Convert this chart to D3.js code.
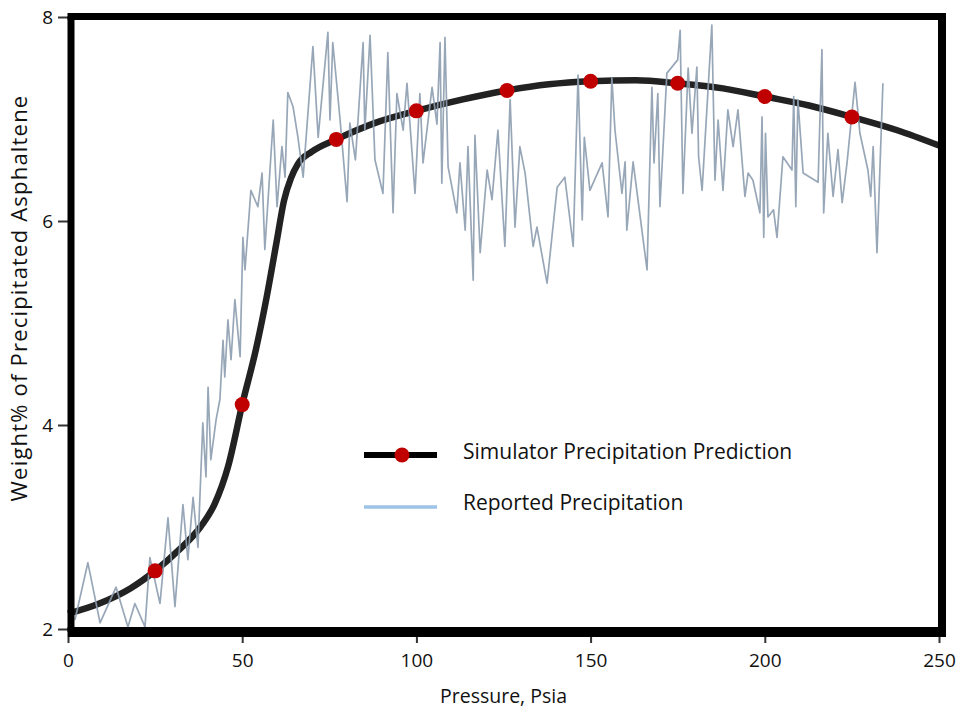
<!DOCTYPE html>
<html>
<head>
<meta charset="utf-8">
<title>Asphaltene precipitation</title>
<style>
  body { margin: 0; background: #fff; }
  svg text { font-family: "Open Sans", "Noto Sans", sans-serif; fill: #111; }
</style>
</head>
<body>
<svg width="960" height="709"></svg>
<script src="https://d3js.org/d3.v7.min.js"></script>
<script>
// simulator prediction curve
var curveX = [0, 9, 18, 25, 32, 38, 42, 46, 50, 54, 57, 60, 62, 64, 66, 70, 77, 88, 100, 113, 126, 138, 150, 163, 175, 188, 200, 213, 225, 238, 250];
var curveY = [2.15, 2.25, 2.4, 2.57, 2.78, 3.0, 3.22, 3.6, 4.2, 4.75, 5.25, 5.82, 6.2, 6.42, 6.56, 6.68, 6.8, 6.96, 7.08, 7.19, 7.28, 7.34, 7.37, 7.38, 7.35, 7.3, 7.22, 7.13, 7.02, 6.89, 6.74];

// red markers on the simulator curve
var dotX = [25, 50, 77, 100, 126, 150, 175, 200, 225];
var dotY = [2.57, 4.2, 6.8, 7.08, 7.28, 7.37, 7.35, 7.22, 7.02];

// reported precipitation
var repX = [2.0, 5.7, 9.2, 13.8, 17.2, 19.2, 22.1, 23.5, 26.4, 28.7, 30.7, 33.0, 34.4, 35.9, 37.3, 38.7, 39.6, 40.2, 41.0, 42.5, 43.6, 44.5, 45.0, 45.9, 46.8, 47.9, 49.4, 50.2, 50.8, 52.5,
  54.5, 55.7, 56.5, 58.9, 60.0, 61.4, 62.3, 63.1, 64.6, 66.0, 67.5, 70.3, 71.8, 74.6, 75.2, 76.0, 78.1, 80.1, 80.9, 82.5, 84.7, 85.2, 86.7, 88.1, 90.4, 91.8, 93.3, 94.4, 96.2, 97.3,
  99.6, 101.0, 101.9, 104.5, 105.9, 106.8, 107.3, 108.2, 109.1, 111.6, 112.5, 114.0, 114.8, 116.3, 116.8, 118.3, 120.3, 121.7, 123.4, 125.4, 126.9, 128.3, 129.7, 131.2, 133.5, 134.6, 137.5, 140.4, 142.6, 145.0,
  146.4, 147.6, 148.2, 149.8, 153.3, 155.0, 156.1, 157.0, 159.0, 159.9, 160.4, 162.2, 166.2, 167.6, 168.2, 169.3, 169.9, 171.9, 175.0, 175.7, 176.5, 178.0, 179.1, 180.5, 181.0, 182.0, 184.8, 185.7, 186.6, 188.0,
  189.4, 190.9, 192.3, 194.3, 195.2, 196.6, 198.6, 199.2, 199.7, 200.2, 200.9, 202.5, 203.5, 205.2, 207.8, 208.3, 208.9, 209.5, 211.0, 215.3, 216.4, 216.9, 218.1, 219.6, 221.0, 222.2, 223.6, 225.9, 227.3, 229.6,
  230.4, 231.1, 232.2, 233.9];
var repY = [2.09, 2.65, 2.06, 2.41, 2.02, 2.25, 2.02, 2.70, 2.25, 3.09, 2.22, 3.22, 2.68, 3.29, 2.80, 4.02, 3.49, 4.37, 3.66, 4.05, 4.25, 4.83, 4.47, 5.03, 4.64, 5.23, 4.67, 5.84, 5.52, 6.30,
  6.14, 6.47, 5.72, 6.99, 6.14, 6.73, 6.43, 7.26, 7.12, 6.82, 6.43, 7.71, 6.82, 7.85, 6.99, 7.75, 6.99, 6.19, 6.96, 6.60, 7.75, 6.89, 7.82, 6.60, 6.27, 7.65, 6.08, 7.25, 6.89, 7.35,
  6.27, 7.25, 6.57, 7.31, 6.95, 7.75, 6.37, 7.80, 6.53, 6.08, 6.57, 5.91, 6.73, 5.42, 6.84, 5.69, 6.50, 6.21, 6.89, 5.75, 7.19, 5.94, 6.73, 6.47, 5.75, 5.94, 5.39, 6.33, 6.43, 5.75,
  7.43, 6.01, 6.82, 6.30, 6.57, 6.04, 7.40, 6.89, 6.27, 6.58, 5.91, 6.58, 5.52, 7.31, 6.57, 7.25, 6.14, 7.45, 7.58, 7.87, 6.27, 7.50, 6.86, 7.51, 6.63, 6.30, 7.92, 6.40, 6.99, 6.30,
  7.09, 6.73, 7.09, 6.24, 6.47, 6.40, 6.08, 7.02, 5.84, 6.86, 6.04, 6.11, 5.84, 6.63, 6.50, 7.22, 6.14, 7.19, 6.47, 6.38, 7.68, 6.08, 6.86, 6.24, 6.70, 6.18, 6.57, 7.36, 6.86, 6.50,
  6.24, 6.73, 5.69, 7.35];

var xTicks = [0, 50, 100, 150, 200, 250];
var yTicks = [2, 4, 6, 8];

var svg = d3.select("svg");

var x = d3.scaleLinear().domain([0, 250]).range([68, 939]);
var y = d3.scaleLinear().domain([2, 8]).range([629, 17]);

var line = d3.line()
  .x(function(d) { return x(d[0]); })
  .y(function(d) { return y(d[1]); });

// simulator curve
svg.append("path")
  .datum(d3.zip(curveX, curveY))
  .attr("fill", "none")
  .attr("stroke", "#222")
  .attr("stroke-width", 6.5)
  .attr("d", line.curve(d3.curveMonotoneX));

// reported trace
svg.append("path")
  .datum(d3.zip(repX, repY))
  .attr("fill", "none")
  .attr("stroke", "#8d9db0")
  .attr("stroke-opacity", 0.9)
  .attr("stroke-width", 1.7)
  .attr("stroke-linejoin", "round")
  .attr("d", line.curve(d3.curveLinear));

svg.selectAll(".dot")
  .data(d3.zip(dotX, dotY))
  .enter().append("circle")
  .attr("class", "dot")
  .attr("cx", function(d) { return x(d[0]); })
  .attr("cy", function(d) { return y(d[1]); })
  .attr("r", 7.5)
  .attr("fill", "#c00000");

// axes
var yAxis = svg.append("g")
  .attr("transform", "translate(" + x(0) + ",0)")
  .call(d3.axisLeft(y).tickValues(yTicks).tickFormat(d3.format("d")).tickSize(10).tickPadding(5));
var xAxis = svg.append("g")
  .attr("transform", "translate(0,637)")
  .call(d3.axisBottom(x).tickValues(xTicks).tickFormat(d3.format("d")).tickSize(6).tickPadding(11));
[yAxis, xAxis].forEach(function(a) {
  a.select(".domain").remove();
  a.selectAll(".tick line").attr("stroke", "#333").attr("stroke-width", 2);
  a.selectAll("text").style("font-size", "19px").attr("fill", "#111");
});

// thick frame
var fx0 = x(0) + 3, fx1 = x(250) + 3, fy0 = y(8) - 0.5, fy1 = y(2) + 3;
svg.append("line").attr("x1", fx0 - 3.5).attr("x2", fx1 + 4).attr("y1", fy0).attr("y2", fy0).attr("stroke", "#000").attr("stroke-width", 7);
svg.append("line").attr("x1", fx0 - 3.5).attr("x2", fx1 + 4).attr("y1", fy1).attr("y2", fy1).attr("stroke", "#000").attr("stroke-width", 10);
svg.append("line").attr("x1", fx0).attr("x2", fx0).attr("y1", fy0).attr("y2", fy1).attr("stroke", "#000").attr("stroke-width", 7);
svg.append("line").attr("x1", fx1).attr("x2", fx1).attr("y1", fy0).attr("y2", fy1 + 5).attr("stroke", "#000").attr("stroke-width", 8);

// axis titles
svg.append("text")
  .attr("x", (x(0) + x(250)) / 2)
  .attr("y", 703)
  .attr("text-anchor", "middle")
  .style("font-size", "19.5px")
  .text("Pressure, Psia");
svg.append("text")
  .attr("transform", "translate(27,298) rotate(-90)")
  .attr("text-anchor", "middle")
  .style("font-size", "22px")
  .style("letter-spacing", "1.2px")
  .text("Weight% of Precipitated Asphaltene");

// legend
var leg = svg.append("g");
leg.append("line").attr("x1", 364).attr("x2", 437).attr("y1", 455).attr("y2", 455)
  .attr("stroke", "#000").attr("stroke-width", 6);
leg.append("circle").attr("cx", 402).attr("cy", 455).attr("r", 7.5).attr("fill", "#c00000");
leg.append("line").attr("x1", 364).attr("x2", 437).attr("y1", 507).attr("y2", 507)
  .attr("stroke", "#9dc3e6").attr("stroke-width", 3.5);
leg.append("text").attr("x", 463).attr("y", 459).style("font-size", "21px").text("Simulator Precipitation Prediction");
leg.append("text").attr("x", 463).attr("y", 510).style("font-size", "21px").text("Reported Precipitation");
</script>
</body>
</html>
